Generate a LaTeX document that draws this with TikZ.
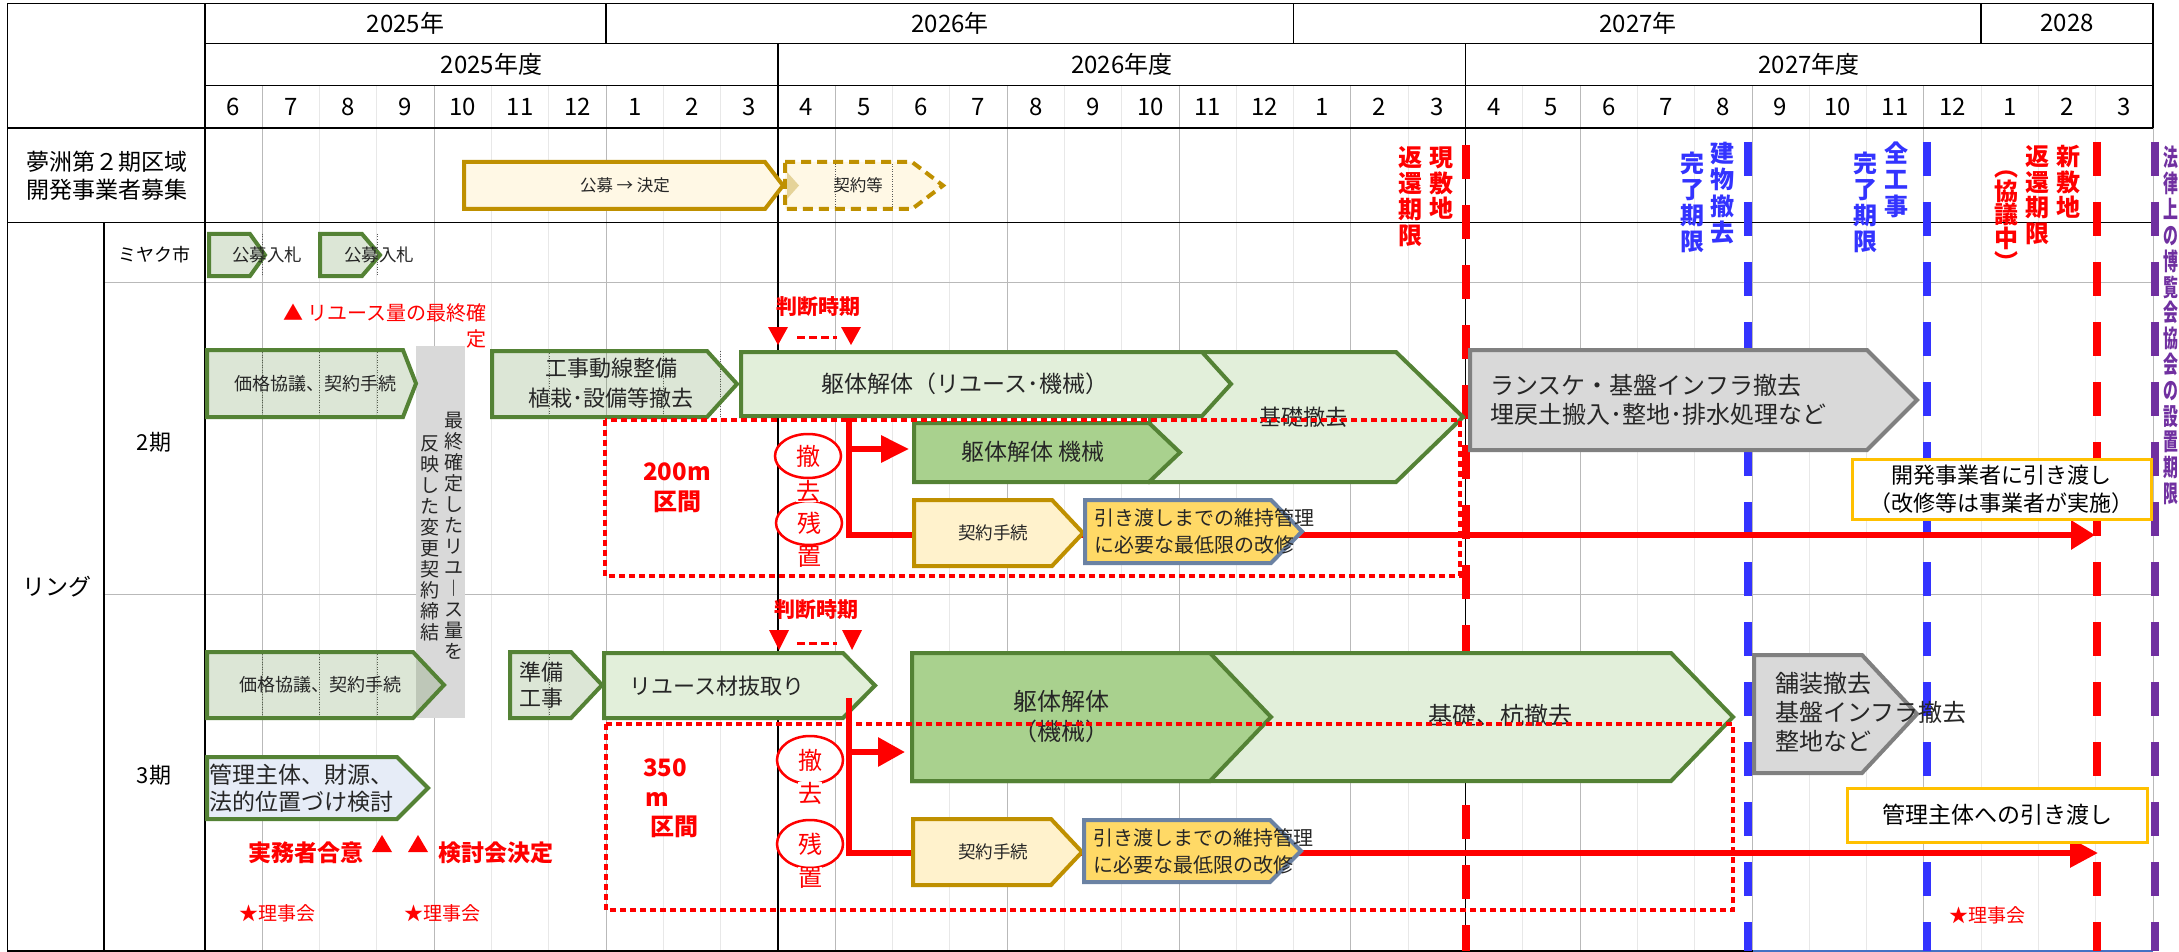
\documentclass[tikz,border=0pt]{standalone}
\usepackage{fontspec}
\setmainfont{Noto Sans CJK JP}
\usetikzlibrary{arrows.meta}
\definecolor{gbord}{HTML}{548235}
\definecolor{gfill}{HTML}{E2EFDA}
\definecolor{gdark}{HTML}{A9D18E}
\definecolor{gold}{HTML}{BF9000}
\definecolor{ylight}{HTML}{FFF2CC}
\definecolor{ycream}{HTML}{FFF8E5}
\definecolor{ydark}{HTML}{FFD966}
\definecolor{slate}{HTML}{6B82A3}
\definecolor{gbox}{HTML}{D9D9D9}
\definecolor{gboxb}{HTML}{808080}
\definecolor{orng}{HTML}{FFC000}
\definecolor{bl}{HTML}{3333FF}
\definecolor{pur}{HTML}{7030A0}
\definecolor{lav}{HTML}{E6ECF7}
\definecolor{txt}{HTML}{262626}
\definecolor{rd}{HTML}{FF0000}
\newcommand\fz[2]{\fontsize{#1}{#2}\selectfont}
\newcommand\chev[6][]{\draw[#1] (#2,#5) -- (#3,#5) -- (#4,{(#5+#6)/2}) -- (#3,#6) -- (#2,#6) -- cycle;}
\newcommand\vcol[6]{\foreach \c [count=\i from 0] in {#6} \node[#1] (#2-\i) at (#3,{#4+#5*\i}) {\c};}
\newcommand\vcolN[6]{\foreach \c [count=\i from 0] in {#6} \node[#1] (#2-\i) at (#3,{#4+#5*\i}) {\scalebox{0.62}[1]{\c}};}
\tikzset{
  gridD/.style={gray!55, line width=0.8pt},
  gridL/.style={gray!18, line width=0.8pt},
  frm/.style={black, line width=1.5pt},
  vdr/.style={line width=8pt, dash pattern=on 34pt off 26pt},
  shp/.style={line width=4pt, line join=miter},
  gA/.style={shp, draw=gbord, fill=gbord, fill opacity=0.2},
  gL/.style={shp, draw=gbord, fill=gfill},
  gD/.style={shp, draw=gbord, fill=gdark},
  yC/.style={shp, draw=gold, fill=ylight},
  yS/.style={shp, draw=gold, fill=ycream},
  yD/.style={shp, draw=slate, fill=ydark},
  gry/.style={shp, draw=gboxb, fill=gbox},
  lavS/.style={shp, draw=gbord, fill=lav},
  dgrid/.style={black!65, line width=0.6pt, dash pattern=on 1pt off 1.5pt},
  rdot/.style={rd, line width=4pt, dash pattern=on 6pt off 4pt},
  rarr/.style={rd, line width=6pt, line join=miter},
  hd/.style={font=\fz{24}{28}},
  lab/.style={font=\fz{#1}{#1}, text=txt},
  vchB/.style={inner sep=0pt, text height=21pt, text depth=3pt, font=\bfseries\fz{24}{24}},
  vchR/.style={inner sep=0pt, text height=16.7pt, text depth=2.3pt, font=\fz{19}{19}, text=txt},
  rb/.style={font=\bfseries\fz{#1}{#1}, text=rd},
}
\begin{document}
\begin{tikzpicture}[x=1pt,y=-1pt, every node/.style={inner sep=0pt}]
\useasboundingbox (0,0) rectangle (2179,952);
\fill[white] (0,0) rectangle (2179,952);

% ---------- grid ----------
\foreach \k in {2,3,5,6,8,9,12,13,15,16,18,19,21,23,25,26,28,29,31,32,33}
  \draw[gridL] ({205+57.294*\k},85.7) -- ({205+57.294*\k},951);
\foreach \k in {1,4,7,11,14,17,20,24,27,30,34}
  \draw[gridD] ({205+57.294*\k},85.7) -- ({205+57.294*\k},951);
\draw[gray!55, line width=1pt] (104,282.3) -- (2153,282.3);
\draw[gray!55, line width=1pt] (104,594) -- (2153,594);

% ---------- frame ----------
\draw[frm] (7.7,3.3) -- (2153,3.3) -- (2153,127.7);
\draw[frm] (7.7,3.3) -- (7.7,951) -- (1753,951);
\draw[color={rgb,255:red,68;green,114;blue,196}, line width=1.5pt] (1753,951) -- (2153,951);
\draw[frm] (205,43.3) -- (2153,43.3);
\draw[frm] (205,85.7) -- (2153,85.7);
\draw[black, line width=2.2pt] (7.7,127.7) -- (2153,127.7);
\draw[frm] (7.7,222.3) -- (2153,222.3);
\draw[frm] (205,3.3) -- (205,951);
\draw[frm] (104,222.3) -- (104,951);
\draw[frm] (606.1,3.3) -- (606.1,43.3);
\draw[frm] (1293.6,3.3) -- (1293.6,43.3);
\draw[frm] (1981.1,3.3) -- (1981.1,43.3);
\draw[frm] (777.9,43.3) -- (777.9,951);
\draw[frm] (1465.5,43.3) -- (1465.5,951);

% ---------- header text ----------
\node[hd] (y25) at (405.5,23.3) {2025年};
\node[hd] (y26) at (950,23.3) {2026年};
\node[hd] (y27) at (1638,23.3) {2027年};
\node[hd] (y28) at (2067,23.3) {2028};
\node[hd] (fy25) at (491.5,64.5) {2025年度};
\node[hd] (fy26) at (1121.7,64.5) {2026年度};
\node[hd] (fy27) at (1809.2,64.5) {2027年度};
\foreach \m [count=\k from 0] in {6,7,8,9,10,11,12,1,2,3,4,5,6,7,8,9,10,11,12,1,2,3,4,5,6,7,8,9,10,11,12,1,2,3}
  \node[hd] (m\k) at ({205+57.294*(\k+0.5)},106.7) {\m};

% ---------- left labels ----------
\node[font=\fz{23}{28}, align=center] (yume) at (107,176) {夢洲第２期区域\\開発事業者募集};
\node[font=\fz{18}{18}] (miyaku) at (154,255) {ミヤク市};
\node[font=\fz{22}{22}] (p2) at (154,442) {2期};
\node[font=\fz{22}{22}] (p3) at (154,775) {3期};
\node[font=\fz{23}{23}] (ring) at (57,587) {リング};

% ---------- vertical dashed deadline lines ----------
\draw[vdr, rd] (1465.5,145) -- (1465.5,951);
\draw[vdr, bl] (1748,142) -- (1748,951);
\draw[vdr, bl] (1927,142) -- (1927,951);
\draw[vdr, rd] (2097,142) -- (2097,951);
\draw[vdr, pur] (2155,142) -- (2155,951);

% ---------- 夢洲 row ----------
\foreach \x in {491.5,548.8,606.1,663.4,720.6} \draw[dgrid] (\x,164) -- (\x,207);
\chev[yS]{464}{765}{783}{162}{209}
\node[lab=16.5] (kobo) at (625,185.5) {公募 → 決定};
\draw[gold, line width=4pt, dash pattern=on 10pt off 6pt, fill=ycream, line join=miter]
  (785,162) -- (912,162) -- (943,185.5) -- (912,209) -- (785,209) -- cycle;
\fill[gold!40] (787,172) -- (799,185.5) -- (787,199) -- cycle;
\draw[dgrid] (835.2,164) -- (835.2,207);
\draw[dgrid] (892.5,164) -- (892.5,207);
\node[lab=16.5] (keiyakuto) at (858,185.5) {契約等};

% ---------- ミヤク市 row ----------
\chev[gA]{209}{250}{265}{234}{276}
\chev[gA]{320}{362}{380}{234}{276}
\draw[dgrid] (262.3,234) -- (262.3,276);
\draw[dgrid] (376.9,234) -- (376.9,276);
\node[lab=17.5] (nyu1) at (267,255) {公募入札};
\node[lab=17.5] (nyu2) at (379,255) {公募入札};

% ---------- 2期 ----------
\node[font=\fz{20}{26}, text=rd, align=right, anchor=north east] (reuse) at (487,303) {▲ リユース量の最終確\\定};
\fill[gbox] (416,346) rectangle (465,718);
\vcol{vchR}{vr}{454}{420}{21}{最,終,確,定,し,た,リ,ユ,︱,ス,量,を}
\vcol{vchR}{vl}{430}{443}{21}{反,映,し,た,変,更,契,約,締,結}

\foreach \x in {262.3,319.6,376.9} \draw[dgrid] (\x,352) -- (\x,415);
\chev[gA]{207}{403}{416}{350}{417}
\node[lab=18] (kakaku2) at (315,383.5) {価格協議、契約手続};

\foreach \x in {548.8,663.4} \draw[dgrid] (\x,353) -- (\x,415);
\draw[dgrid] (720.6,351) -- (720.6,417);
\chev[gA]{492}{707}{737}{351}{417}
\node[font=\fz{22}{30}, text=txt, align=center] (koji) at (611,383) {工事動線整備\\植栽･設備等撤去};

% red connectors 2期 (behind boxes)
\coordinate (r2a) at (849,418);
\coordinate (r2b) at (849,535);
\coordinate (r2e) at (2095,535);
\coordinate (b2s) at (849,449);
\coordinate (b2e) at (909,449);

\chev[gL]{1150}{1396}{1463}{352}{482}
\chev[gL]{741}{1202}{1231}{352}{416}
\chev[gD]{914}{1149}{1180}{423}{482}
\node[lab=23] (kutai2) at (965,384) {躯体解体（リユース･機械）};
\node[lab=22] (kiso2) at (1303,417) {基礎撤去};
\node[lab=23] (kikai2) at (1033,452) {躯体解体 機械};

\draw[rarr, -{Triangle[length=24pt,width=28pt]}] (r2a) -- (r2b) -- (r2e);
\draw[rarr, -{Triangle[length=28pt,width=26pt]}] (b2s) -- (b2e);

\chev[yC]{914}{1052}{1083}{500}{566}
\node[lab=17.5] (tetsu2) at (993,533) {契約手続};
\chev[yD]{1085}{1271}{1302}{500}{563}
\node[font=\fz{20}{27}, text=txt, align=left, anchor=west] (iji2) at (1094,531.5) {引き渡しまでの維持管理\\に必要な最低限の改修};

\chev[gry]{1470}{1867}{1917}{350}{450}
\node[font=\fz{24}{29}, text=txt, align=left, anchor=west] (lans) at (1490,400) {ランスケ・基盤インフラ撤去\\埋戻土搬入･整地･排水処理など};

\draw[orng, line width=3pt, fill=white] (1852,459) rectangle (2151,519);
\node[font=\fz{22}{28}, align=center] (kaihatsu) at (2001,489) {開発事業者に引き渡し\\（改修等は事業者が実施）};

\node[rb=21] (hd2) at (818,307) {判断時期};
\fill[rd] (768,327) -- (788,327) -- (778,345) -- cycle;
\fill[rd] (841,327) -- (861,327) -- (851,345) -- cycle;
\draw[rd, line width=3pt, dash pattern=on 8pt off 4pt] (797,337) -- (837,337);

\draw[rd, line width=2.5pt, fill=white] (808,456) ellipse [x radius=33pt, y radius=22pt];
\draw[rd, line width=2.5pt, fill=white] (809,523) ellipse [x radius=33pt, y radius=22pt];
\node[font=\fz{24}{24}, text=rd] (tk2) at (808,456) {撤};
\node[font=\fz{24}{24}, text=rd, fill=white] (kyo2) at (808,491) {去};
\node[font=\fz{24}{24}, text=rd] (zn2) at (809,523) {残};
\node[font=\fz{24}{24}, text=rd, fill=white] (ch2) at (809,557) {置};

\draw[rdot] (605,420) rectangle (1460,576);
\node[rb=24, align=center, font=\bfseries\fz{24}{30}] (m200) at (677,488) {200m\\区間};

% ---------- 3期 ----------
\foreach \x in {262.3,319.6,376.9} \draw[dgrid] (\x,654) -- (\x,716);
\chev[gA]{207}{413}{444}{652}{718}
\node[lab=18] (kakaku3) at (320,685) {価格協議、契約手続};

\draw[dgrid] (548.8,654) -- (548.8,716);
\chev[gA]{510}{571}{602}{652}{718}
\node[font=\fz{22}{26}, text=txt, align=center] (junbi) at (541,685) {準備\\工事};

\chev[gL]{604}{843}{875}{653}{718}
\node[lab=22] (nuki) at (717,686) {リユース材抜取り};

\coordinate (r3a) at (849,698);
\coordinate (r3b) at (849,853);
\coordinate (r3e) at (2098,853);
\coordinate (b3s) at (849,752);
\coordinate (b3e) at (905,752);

\chev[gL]{912}{1671}{1733}{653}{781}
\chev[gD]{912}{1210}{1271}{653}{781}
\node[font=\fz{24}{30}, text=txt, align=center] (kutai3) at (1061,717) {躯体解体\\（機械）};
\node[lab=24] (kiso3) at (1500,715) {基礎、杭撤去};

\draw[rarr, -{Triangle[length=28pt,width=28pt]}] (r3a) -- (r3b) -- (r3e);
\draw[rarr, -{Triangle[length=27pt,width=28pt]}] (b3s) -- (b3e);

\chev[yC]{913}{1051}{1082}{819}{885}
\node[lab=17.5] (tetsu3) at (993,852) {契約手続};
\chev[yD]{1084}{1270}{1301}{820}{882}
\node[font=\fz{20}{27}, text=txt, align=left, anchor=west] (iji3) at (1093,851) {引き渡しまでの維持管理\\に必要な最低限の改修};

\chev[gry]{1754}{1862}{1917}{655}{773}
\node[font=\fz{24}{29}, text=txt, align=left, anchor=west] (hoso) at (1775,712) {舗装撤去\\基盤インフラ撤去\\整地など};

\draw[orng, line width=3pt, fill=white] (1847,788) rectangle (2147,842);
\node[font=\fz{23}{23}] (kanri) at (1997,815) {管理主体への引き渡し};

\foreach \x in {262.3,319.6,376.9} \draw[dgrid] (\x,759) -- (\x,817);
\chev[lavS]{207}{397}{428}{757}{819}
\node[font=\fz{23}{27}, text=txt, align=left, anchor=west] (zaigen) at (209,788) {管理主体、財源、\\法的位置づけ検討};

\node[rb=23] (jitsumu) at (306,853) {実務者合意};
\fill[rd] (372,852) -- (392,852) -- (382,835) -- cycle;
\fill[rd] (408,852) -- (428,852) -- (418,835) -- cycle;
\node[rb=23] (kentou) at (496,853) {検討会決定};

\node[font=\fz{19}{19}, text=rd] (rj1) at (277,913) {★理事会};
\node[font=\fz{19}{19}, text=rd] (rj2) at (442,913) {★理事会};
\node[font=\fz{19}{19}, text=rd] (rj3) at (1987,915) {★理事会};

\node[rb=21] (hd3) at (816,610) {判断時期};
\fill[rd] (769,630) -- (789,630) -- (779,650) -- cycle;
\fill[rd] (842,630) -- (862,630) -- (852,650) -- cycle;
\draw[rd, line width=3pt, dash pattern=on 8pt off 4pt] (797,643) -- (837,643);

\draw[rd, line width=2.5pt, fill=white] (810,760) ellipse [x radius=33pt, y radius=24pt];
\draw[rd, line width=2.5pt, fill=white] (810,844) ellipse [x radius=33pt, y radius=24pt];
\node[font=\fz{24}{24}, text=rd] (tk3) at (810,760) {撤};
\node[font=\fz{24}{24}, text=rd, fill=white] (kyo3) at (810,793) {去};
\node[font=\fz{24}{24}, text=rd] (zn3) at (810,844) {残};
\node[font=\fz{24}{24}, text=rd, fill=white] (ch3) at (810,878) {置};

\draw[rdot] (606,724) rectangle (1733,910);
\node[rb=24, anchor=west] (n350) at (643,768) {350};
\node[rb=24, anchor=west] (nm) at (645,799) {m};
\node[rb=24, anchor=west] (nkukan) at (650,827) {区間};

% ---------- vertical deadline labels ----------
\vcol{vchB, text=rd}{ga}{1441}{158}{25.5}{現,敷,地}
\vcol{vchB, text=rd}{gb}{1410}{158}{25.7}{返,還,期,限}
\vcol{vchB, text=bl}{ta}{1722}{154}{26}{建,物,撤,去}
\vcol{vchB, text=bl}{tb}{1692}{164}{26}{完,了,期,限}
\vcol{vchB, text=bl}{za}{1896}{154}{26}{全,工,事}
\vcol{vchB, text=bl}{zb}{1865}{164}{26}{完,了,期,限}
\vcol{vchB, text=rd}{sa}{2068}{157}{25.5}{新,敷,地}
\vcol{vchB, text=rd}{sb}{2037}{157}{25.5}{返,還,期,限}
\vcol{vchB, text=rd}{sc}{2006}{168}{23.5}{︵,協,議,中,︶}
\vcolN{vchB, text=pur}{hk}{2170.5}{158}{25.8}{法,律,上,の,博,覧,会,協,会,の,設,置,期,限}
\end{tikzpicture}
\end{document}
